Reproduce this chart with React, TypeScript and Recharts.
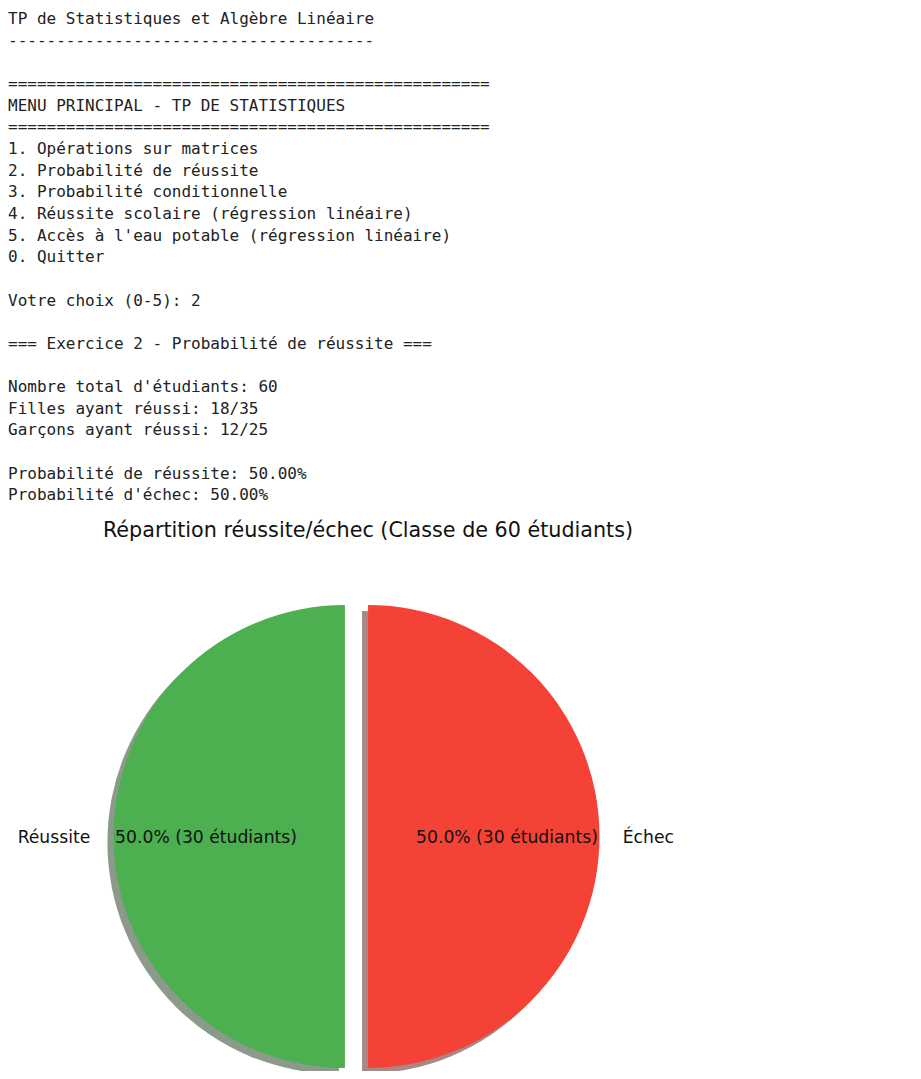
import React from "react";
import { PieChart, Pie, Cell, Sector } from "recharts";

// console output printed above the figure
const consoleLines = [
  "TP de Statistiques et Algèbre Linéaire",
  "--------------------------------------",
  "",
  "==================================================",
  "MENU PRINCIPAL - TP DE STATISTIQUES",
  "==================================================",
  "1. Opérations sur matrices",
  "2. Probabilité de réussite",
  "3. Probabilité conditionnelle",
  "4. Réussite scolaire (régression linéaire)",
  "5. Accès à l'eau potable (régression linéaire)",
  "0. Quitter",
  "",
  "Votre choix (0-5): 2",
  "",
  "=== Exercice 2 - Probabilité de réussite ===",
  "",
  "Nombre total d'étudiants: 60",
  "Filles ayant réussi: 18/35",
  "Garçons ayant réussi: 12/25",
  "",
  "Probabilité de réussite: 50.00%",
  "Probabilité d'échec: 50.00%",
];

const categories = ["Réussite", "Échec"];
const students = [30, 30];
const colors = ["#4CAF50", "#F44336"];

const total = students.reduce((a, b) => a + b, 0);
const data = categories.map((name, i) => ({ name, value: students[i] }));

const RADIAN = Math.PI / 180;
const EXPLODE = 0.05;
const FONT = "'DejaVu Sans', sans-serif";

// matplotlib shadow: 0.3 * face colour, alpha 0.5
const shade = (hex: string) => {
  const n = parseInt(hex.slice(1), 16);
  const r = Math.round(((n >> 16) & 255) * 0.3);
  const g = Math.round(((n >> 8) & 255) * 0.3);
  const b = Math.round((n & 255) * 0.3);
  return `rgb(${r},${g},${b})`;
};

const explodedSlice = (sx: number, sy: number, opacity: number) => (props: any) => {
  const { cx, cy, midAngle, innerRadius, outerRadius, startAngle, endAngle, fill } = props;
  const d = outerRadius * EXPLODE;
  const x = cx + d * Math.cos(-midAngle * RADIAN) + sx;
  const y = cy + d * Math.sin(-midAngle * RADIAN) + sy;
  return (
    <Sector
      cx={x}
      cy={y}
      innerRadius={innerRadius}
      outerRadius={outerRadius}
      startAngle={startAngle}
      endAngle={endAngle}
      fill={fill}
      fillOpacity={opacity}
      stroke="none"
    />
  );
};

const renderLabels = (props: any) => {
  const { cx, cy, midAngle, outerRadius, percent, index } = props;
  const cos = Math.cos(-midAngle * RADIAN);
  const sin = Math.sin(-midAngle * RADIAN);
  const ox = cx + outerRadius * EXPLODE * cos;
  const oy = cy + outerRadius * EXPLODE * sin;
  return (
    <g fontFamily={FONT} fontSize={17.2} fill="#111">
      <text
        x={ox + outerRadius * 1.1 * cos}
        y={oy + outerRadius * 1.1 * sin}
        textAnchor={cos > 0 ? "start" : "end"}
        dominantBaseline="central"
      >
        {categories[index]}
      </text>
      <text
        x={ox + outerRadius * 0.6 * cos}
        y={oy + outerRadius * 0.6 * sin}
        textAnchor="middle"
        dominantBaseline="central"
      >
        {`${(percent * 100).toFixed(1)}% (${students[index]} étudiants)`}
      </text>
    </g>
  );
};

export default function App() {
  return (
    <div style={{ height: 1071, marginBottom: -8, overflow: "hidden" }}>
      <pre
        style={{
          margin: 0,
          fontFamily: "'DejaVu Sans Mono', monospace",
          fontSize: 16,
          lineHeight: "21.65px",
          color: "#222",
        }}
      >
        {consoleLines.join("\n")}
      </pre>
      <div style={{ position: "relative", width: 905, height: 570 }}>
        <div
          style={{
            position: "absolute",
            left: 0,
            width: 720,
            top: 14,
            textAlign: "center",
            fontFamily: FONT,
            fontSize: 20.7,
            lineHeight: "20px",
            color: "#111",
          }}
        >
          {`Répartition réussite/échec (Classe de ${total} étudiants)`}
        </div>
        <PieChart width={905} height={570} margin={{ top: 0, right: 0, bottom: 0, left: 0 }}>
          <Pie
            data={data}
            dataKey="value"
            nameKey="name"
            cx={348.5}
            cy={330.5}
            outerRadius={231.5}
            startAngle={90}
            endAngle={450}
            stroke="none"
            shape={explodedSlice(-6, 6, 0.5)}
            isAnimationActive={false}
          >
            {data.map((d, i) => (
              <Cell key={d.name} fill={shade(colors[i])} />
            ))}
          </Pie>
          <Pie
            data={data}
            dataKey="value"
            nameKey="name"
            cx={348.5}
            cy={330.5}
            outerRadius={231.5}
            startAngle={90}
            endAngle={450}
            stroke="none"
            shape={explodedSlice(0, 0, 1)}
            label={renderLabels}
            labelLine={false}
            isAnimationActive={false}
          >
            {data.map((d, i) => (
              <Cell key={d.name} fill={colors[i]} />
            ))}
          </Pie>
        </PieChart>
      </div>
    </div>
  );
}
